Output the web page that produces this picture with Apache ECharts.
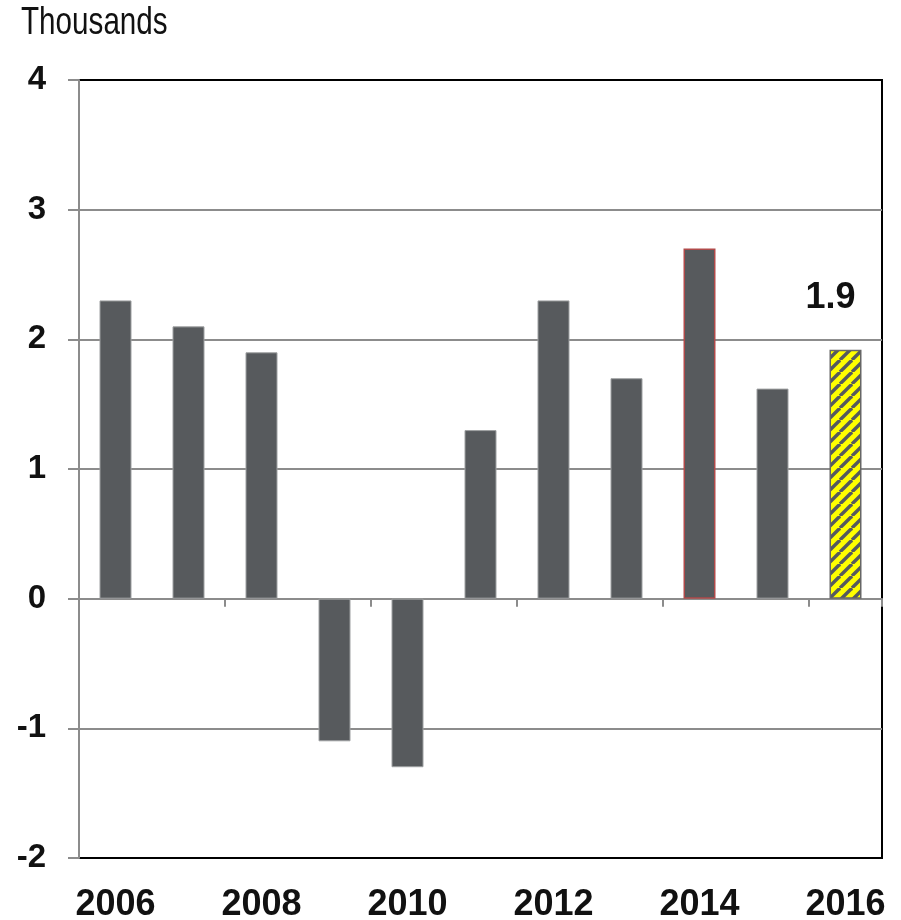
<!DOCTYPE html>
<html>
<head>
<meta charset="utf-8">
<script src="https://cdn.jsdelivr.net/npm/echarts@6/dist/echarts.min.js"></script>
<style>
html,body{margin:0;padding:0;background:#fff;}
#chart{width:901px;height:920px;}
</style>
</head>
<body>
<div id="chart"></div>
<script>
const years = ['2006','2007','2008','2009','2010','2011','2012','2013','2014','2015','2016'];
const values = [2.3, 2.1, 1.9, -1.1, -1.3, 1.3, 2.3, 1.7, 2.7, 1.62, 1.92];
const yTicks = { min: -2, max: 4, interval: 1 };
const unitLabel = 'Thousands';
const highlightIndex = 8;   // 2014, red outline
const forecastIndex = 10;   // 2016, hatched bar with label

// hatch pattern
function makeHatch() {
  const s = 12;
  const c = document.createElement('canvas');
  c.width = s; c.height = s;
  const ctx = c.getContext('2d');
  ctx.fillStyle = '#ffff00';
  ctx.fillRect(0, 0, s, s);
  ctx.strokeStyle = '#555a5e';
  ctx.lineWidth = 3.4;
  for (let k = -s; k <= s; k += s) {
    ctx.beginPath();
    ctx.moveTo(k, s);
    ctx.lineTo(k + s, 0);
    ctx.stroke();
  }
  return c;
}
const hatch = makeHatch();

const barData = values.map((v, i) => {
  const item = { value: v, itemStyle: { color: '#575a5d', borderColor: '#9ea0a2', borderWidth: 1 } };
  if (i === highlightIndex) item.itemStyle = { color: '#575a5d', borderColor: '#b04a4a', borderWidth: 1.5 };
  if (i === forecastIndex) {
    item.itemStyle = { color: { image: hatch, repeat: 'repeat' }, borderColor: '#666', borderWidth: 1.5 };
    item.label = {
      show: true, position: 'top', distance: 34, offset: [-15, 0],
      formatter: (p) => p.value.toFixed(1),
      fontFamily: 'Liberation Sans, Arial, sans-serif', fontWeight: 'bold', fontSize: 36, color: '#111'
    };
  }
  return item;
});

const chart = echarts.init(document.getElementById('chart'), null, { renderer: 'canvas' });
chart.setOption({
  animation: false,
  backgroundColor: '#fff',
  graphic: [{
    type: 'text', x: 21, y: 5, scaleX: 0.78, scaleY: 1,
    style: { text: unitLabel, font: 'normal 38px "Liberation Sans", Arial, sans-serif', fill: '#111' }
  }],
  grid: { left: 79, right: 19, top: 80, bottom: 62, outerBoundsMode: 'none', containLabel: false,
          show: true, borderColor: '#000', borderWidth: 2, backgroundColor: 'transparent' },
  xAxis: [
    {
      type: 'category', data: years, position: 'bottom',
      axisLine: { show: false, onZero: false },
      axisTick: { show: false },
      axisLabel: { interval: 1, margin: 29, fontFamily: 'Liberation Sans, Arial, sans-serif', fontWeight: 'bold', fontSize: 36, color: '#111' },
      splitLine: { show: false }
    },
    {
      type: 'category', data: years, position: 'top',
      axisLine: { show: true, onZero: true, lineStyle: { color: '#8c8c8c', width: 2 } },
      axisTick: { show: true, inside: true, interval: 1, length: 8, lineStyle: { color: '#8c8c8c', width: 2 } },
      axisLabel: { show: false },
      splitLine: { show: false }
    }
  ],
  yAxis: [{
    type: 'value', min: yTicks.min, max: yTicks.max, interval: yTicks.interval,
    axisLine: { show: true, lineStyle: { color: '#8c8c8c', width: 2 } },
    axisTick: { show: true, length: 11, lineStyle: { color: '#8c8c8c', width: 2 } },
    axisLabel: { margin: 33, fontFamily: 'Liberation Sans, Arial, sans-serif', fontWeight: 'bold', fontSize: 33, color: '#111' },
    splitLine: { show: true, showMinLine: false, showMaxLine: false, lineStyle: { color: '#8c8c8c', width: 2 } }
  }],
  series: [{
    type: 'bar', xAxisIndex: 0, yAxisIndex: 0,
    data: barData, barWidth: 32, z: 1
  }]
});
</script>
</body>
</html>
